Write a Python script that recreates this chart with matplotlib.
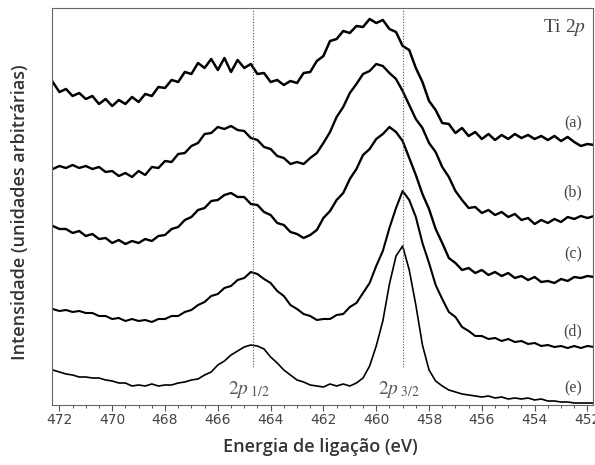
import numpy as np
import matplotlib
matplotlib.use("Agg")
import matplotlib.pyplot as plt
from matplotlib.ticker import MultipleLocator

plt.rcParams["mathtext.fontset"] = "stix"

# energia de ligacao (eV), passo de 0.25 eV
energia = np.arange(472.25, 451.70, -0.25)

# intensidades (unidades arbitrarias, ja com o deslocamento vertical de cada espectro)
esp_a = [323, 313, 316, 309, 312, 306, 309, 301, 306, 299,
         305, 301, 308, 303, 311, 309, 318, 317, 325, 323,
         333, 331, 342, 337, 346, 335, 347, 333, 345, 337,
         341, 331, 332, 323, 325, 320, 324, 322, 332, 333,
         344, 349, 364, 366, 374, 372, 379, 378, 386, 382,
         385, 376, 373, 359, 355, 337, 323, 304, 295, 282,
         281, 272, 277, 269, 273, 266, 271, 265, 270, 266,
         271, 267, 270, 266, 269, 265, 269, 264, 268, 263,
         259, 261, 260]
esp_b = [236, 239, 237, 240, 237, 239, 236, 238, 233, 234,
         229, 232, 228, 234, 230, 238, 237, 244, 243, 251,
         252, 259, 262, 271, 272, 278, 276, 279, 275, 274,
         267, 265, 258, 256, 249, 247, 241, 243, 241, 247,
         252, 262, 273, 288, 298, 312, 321, 331, 334, 341,
         339, 332, 326, 314, 300, 286, 277, 262, 253, 238,
         228, 214, 205, 197, 198, 192, 195, 190, 193, 188,
         191, 185, 187, 181, 185, 182, 186, 183, 188, 186,
         189, 187, 189]
esp_c = [179, 176, 176, 172, 174, 169, 171, 166, 167, 162,
         165, 161, 164, 162, 166, 164, 169, 170, 176, 178,
         185, 188, 195, 197, 204, 205, 210, 212, 208, 208,
         201, 200, 193, 190, 182, 180, 173, 171, 167, 170,
         175, 187, 194, 205, 212, 226, 236, 250, 256, 266,
         271, 278, 273, 264, 247, 230, 211, 196, 176, 162,
         147, 142, 135, 137, 132, 135, 130, 133, 129, 132,
         127, 129, 125, 128, 123, 124, 122, 126, 124, 128,
         127, 129, 128]
esp_d = [96, 94, 95, 93, 94, 92, 92, 89, 89, 86,
         87, 84, 86, 84, 85, 83, 86, 86, 89, 89,
         93, 95, 100, 103, 109, 111, 117, 119, 125, 127,
         133, 131, 126, 122, 114, 109, 100, 96, 91, 89,
         85, 86, 86, 90, 91, 98, 102, 112, 122, 139,
         154, 177, 197, 214, 205, 188, 162, 142, 120, 106,
         93, 88, 78, 74, 69, 69, 66, 67, 64, 66,
         63, 64, 61, 62, 59, 60, 58, 59, 57, 59,
         57, 59, 58]
esp_e = [35, 33, 31, 30, 28, 28, 27, 27, 25, 24,
         22, 22, 19, 20, 19, 21, 19, 20, 20, 22,
         23, 25, 26, 30, 33, 40, 44, 50, 54, 58,
         60, 59, 56, 48, 42, 35, 30, 25, 23, 20,
         19, 18, 21, 19, 21, 19, 22, 27, 39, 59,
         84, 121, 149, 159, 135, 100, 60, 35, 24, 19,
         15, 13, 11, 10, 9, 8, 9, 7, 8, 6,
         7, 6, 7, 5, 6, 4, 4, 3, 3, 2,
         2, 2, 2]
espectros = [esp_a, esp_b, esp_c, esp_d, esp_e]
espessura = [1.8, 1.7, 1.7, 1.5, 1.2]
rotulos = ["(a)", "(b)", "(c)", "(d)", "(e)"]
rotulo_y = [282, 213, 151, 74, 17]

picos = [464.68, 459.0]
picos_txt = [r"$2p_{\ 1/2}$", r"$2p_{\ 3/2}$"]

fig = plt.figure(figsize=(5.95, 4.65), dpi=100)
ax = fig.add_axes([52 / 595, 60 / 465, 541 / 595, 397 / 465])

for y, lw in zip(espectros, espessura):
    ax.plot(energia, y, color="black", lw=lw, solid_joinstyle="round")

ax.vlines(picos, 38, 397, colors="#555555", linestyles=(0, (1, 1.5)), lw=0.8)
for xp, t in zip(picos, picos_txt):
    ax.text(xp + 0.15, 16, t, ha="center", va="center", fontsize=14, color="#555555")

for t, yl in zip(rotulos, rotulo_y):
    ax.text(452.55, yl, t, ha="center", va="center", fontsize=11.5,
            family="Liberation Serif", color="#444444")
ax.text(452.85, 378, r"Ti 2$\mathit{p}$", ha="center", va="center", fontsize=14,
        family="Liberation Serif", color="#444444")

ax.set_xlim(472.28, 451.79)
ax.set_ylim(0, 397)
ax.xaxis.set_major_locator(MultipleLocator(2))
ax.xaxis.set_minor_locator(MultipleLocator(0.5))
ax.set_yticks([])
ax.tick_params(axis="x", which="major", direction="out", length=4, width=0.8,
               color="#555555", labelsize=10, labelcolor="#444444", pad=2)
ax.tick_params(axis="x", which="minor", direction="out", length=2.5, width=0.7,
               color="#555555")
for s in ax.spines.values():
    s.set_color("#666666")
    s.set_linewidth(0.8)

fig.text(320 / 595, 1 - 447 / 465, "Energia de ligação (eV)", ha="center", va="center",
         fontsize=13, family="Open Sans", weight="semibold", color="#333333")
fig.text(20 / 595, 1 - 212 / 465, "Intensidade (unidades arbitrárias)", ha="center",
         va="center", rotation=90, fontsize=13, family="Open Sans", weight="semibold",
         color="#333333")

fig.savefig("out.png", dpi=100)
